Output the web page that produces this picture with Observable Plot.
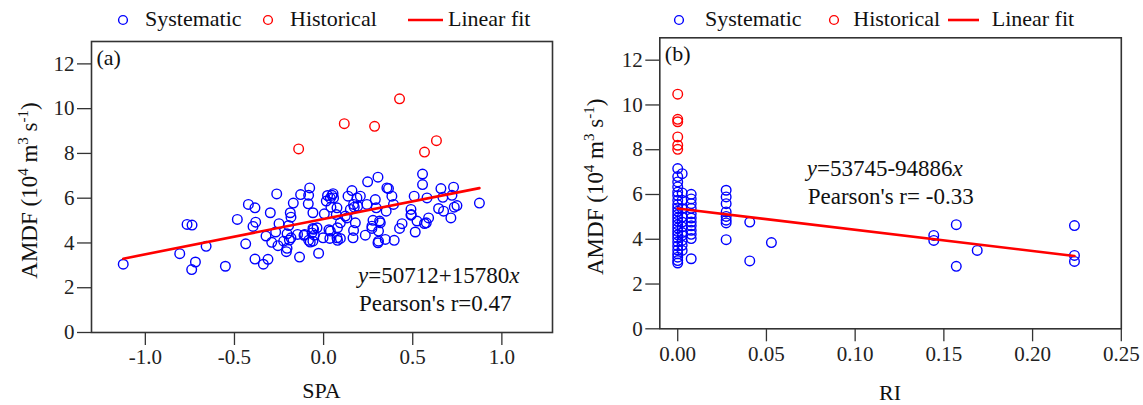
<!DOCTYPE html>
<html><head><meta charset="utf-8">
<script src="https://cdn.jsdelivr.net/npm/d3@7"></script>
<script src="https://cdn.jsdelivr.net/npm/@observablehq/plot@0.6"></script>
<style>
body{margin:0;background:#fff;}
#wrap{position:relative;width:1143px;height:405px;font-family:"Liberation Serif",serif;overflow:hidden;}
.panel{position:absolute;top:0;}
.panel svg text{font-family:"Liberation Serif",serif;}
.lg{position:absolute;font-size:22px;color:#111;white-space:nowrap;line-height:22px;}
</style></head><body><div id="wrap"></div><script>
// ---------- DATA ----------
// Panel (a): SPA vs AMDF (10^4 m^3 s^-1)
const spaSys = [-1.124,-0.766,-0.738,-0.807,-0.719,-0.74,-0.659,-0.551,-0.484,-0.437,-0.422,-0.385,-0.396,-0.381,-0.385,
 -0.338,-0.312,-0.323,-0.299,-0.263,-0.291,-0.25,-0.269,-0.256,-0.209,-0.205,-0.196,-0.187,-0.183,-0.17,-0.192,-0.146,
 -0.135,-0.129,-0.084,-0.078,-0.086,-0.11,-0.075,-0.06,-0.056,-0.052,-0.028,-0.003,0.004,0.015,0.022,0.047,0.041,0.03,
 0.075,-0.224,-0.205,-0.06,-0.06,0.038,0.053,0.071,0.122,0.137,0.159,0.168,0.187,0.206,0.191,0.247,0.305,0.243,0.29,
 0.295,0.355,0.383,0.392,0.351,0.508,0.49,0.492,0.555,0.555,0.58,0.524,0.576,0.514,0.44,0.426,0.396,0.346,0.308,0.314,
 0.277,0.271,0.308,0.234,0.178,0.168,0.131,0.094,0.078,0.094,0.078,0.038,0.035,-0.037,-0.065,-0.084,-0.106,-0.183,0.075,
 0.15,0.364,0.658,0.729,0.72,0.669,0.874,0.748,0.733,0.645,0.673,0.714,0.589,0.566,0.305,0.318,0.271,0.165,0.172,0.056,0.49];
const amdfSysA = [3.05,4.83,4.80,3.52,3.15,2.81,3.85,2.96,5.05,3.96,5.72,5.57,4.74,4.93,3.28,
 3.05,3.27,4.31,5.35,6.19,4.03,4.86,4.49,3.88,3.61,3.76,4.78,5.35,5.15,5.78,4.13,4.38,
 3.37,6.16,6.13,6.46,5.75,4.34,4.04,5.35,4.61,4.35,3.54,4.23,5.30,5.87,6.12,6.13,5.60,4.59,
 4.23,4.08,4.41,4.65,4.08,6.0,6.2,5.27,5.20,6.09,6.34,5.72,6.01,6.09,5.64,6.73,6.94,5.72,5.94,
 5.57,6.46,6.09,5.72,5.42,6.09,5.50,5.27,7.08,6.61,6.01,4.98,4.90,4.49,4.86,4.65,4.12,4.16,4.08,4.98,
 5.01,4.65,4.53,4.35,4.90,4.56,5.12,4.90,4.68,4.20,4.12,4.53,4.20,4.68,4.45,4.12,4.38,4.23,5.57,
 5.50,6.43,6.43,6.49,6.13,6.04,5.78,5.67,5.60,5.54,5.42,5.12,5.12,4.87,4.01,4.90,4.75,4.23,5.60,6.01,5.24];
const spaHist = [-0.14,0.116,0.286,0.426,0.566,0.633];
const amdfHistA = [8.20,9.33,9.21,10.44,8.06,8.57];

// Panel (b): RI vs AMDF
const riSys = [0,0,0,0,0,0,0,0,0,0,0,0,0,0,0,0,0,0,0,0,0,0,0,0,0,
 0.0025,0.0025,0.0025,0.0025,0.0025,0.0025,0.0025,0.0025,0.0025,0.0025,0.0025,0.0025,
 0.0076,0.0076,0.0076,0.0076,0.0076,0.0076,0.0076,0.0076,0.0076,0.0076,0.0076,0.0076,
 0.0273,0.0273,0.0273,0.0273,0.0273,0.0273,0.0273,0.0273,
 0.0406,0.0406,0.0528,0.1443,0.1443,0.157,0.157,0.1688,0.2236,0.2236,0.2236];
const amdfSysB = [7.16,6.8,6.56,6.34,6.11,5.95,5.74,5.55,5.4,5.25,5.1,4.95,4.8,4.65,4.5,4.35,4.2,4.05,3.88,3.7,3.52,3.35,3.2,3.05,2.94,
 6.93,6.07,5.74,5.37,4.99,4.77,4.55,4.3,4.17,3.95,3.73,3.5,
 6.01,5.8,5.59,5.38,5.14,4.95,4.77,4.6,4.4,4.22,4.03,3.13,
 6.19,5.89,5.59,5.22,5.02,4.85,4.73,3.98,
 4.77,3.03,3.85,4.17,3.95,4.65,2.79,3.50,4.61,3.28,3.01];
const riHist = [0,0,0,0,0,0];
const amdfHistB = [10.48,9.36,9.25,8.57,8.20,8.02];

// Linear fits (m^3 s^-1): intercept, slope
const fitA = [50712, 15780];
const fitB = [53745, -94886];

const xTicksA = [-1.0,-0.5,0.0,0.5,1.0];
const xTicksB = [0.00,0.05,0.10,0.15,0.20,0.25];
const yTicks = [0,2,4,6,8,10,12];
const legendLabels = ["Systematic","Historical","Linear fit"];

// ---------- DRAW ----------
const wrap = document.getElementById("wrap");
const BLUE = "#0000ff", RED = "#ff0000", INK = "#222";
const SERIF = '"Liberation Serif", serif';

function zip(xs, ys){ return xs.map((x,i)=>({x, y: ys[i]})); }

function panel(o){
  const sys = zip(o.sysX, o.sysY), hist = zip(o.histX, o.histY);
  const allX = o.sysX.concat(o.histX);
  const x0 = d3.min(allX), x1 = d3.max(allX);
  const fitLine = [x0, x1].map(x => ({x, y: (o.fit[0] + o.fit[1]*x)/1e4}));
  const svg = Plot.plot({
    width: o.width, height: 405,
    marginLeft: o.mL, marginRight: o.mR, marginTop: o.mT, marginBottom: o.mB,
    style: {fontFamily: SERIF, fontSize: "21px", color: INK, background: "transparent", overflow: "visible"},
    x: {domain: o.xDomain},
    y: {domain: [0, 13]},
    marks: [
      Plot.axisY({ticks: yTicks, tickSize: 14, tickPadding: 3, label: null, tickFormat: d => String(d), stroke: "#333", strokeWidth: 1.3, fontFamily: SERIF, fontSize: 21}),
      Plot.axisX({ticks: o.xTicks, tickSize: 13, tickPadding: 4, label: null, tickFormat: o.fmt, stroke: "#333", strokeWidth: 1.3, fontFamily: SERIF, fontSize: 21}),
      Plot.dot(sys, {x: "x", y: "y", r: 4.8, stroke: BLUE, strokeWidth: 1.4, fill: "none"}),
      Plot.dot(hist, {x: "x", y: "y", r: 4.8, stroke: RED, strokeWidth: 1.4, fill: "none"}),
      Plot.line(fitLine, {x: "x", y: "y", stroke: RED, strokeWidth: 2.6}),
      Plot.frame({stroke: "#333", strokeWidth: 1.6}),
      Plot.text([o.tag], {frameAnchor: "top-left", dx: 5, dy: 8, fontSize: 22, fontFamily: SERIF, textAnchor: "start", lineAnchor: "top", fill: "#111"})
    ]
  });
  const s = d3.select(svg);
  s.attr("font-family", SERIF);
  const plotL = o.mL, plotR = o.width - o.mR, plotT = o.mT, plotB = 405 - o.mB;
  // x title
  s.append("text").attr("x", (plotL+plotR)/2).attr("y", o.xTitleY).attr("text-anchor","middle")
    .attr("font-family", SERIF).attr("font-size", 22).attr("fill", "#111").text(o.xTitle);
  // y title with superscripts
  const yt = s.append("text").attr("transform", `translate(${o.yTitleX},${(plotT+plotB)/2 + 4}) rotate(-90)`)
    .attr("text-anchor","middle").attr("font-family", SERIF).attr("font-size", 23).attr("fill", "#111");
  const parts = [["AMDF (10",0],["4",1],[" m",0],["3",1],[" s",0],["-1",1],[")",0]];
  let prev = 0;
  parts.forEach(([t, sup]) => {
    const ts = yt.append("tspan").text(t);
    if (sup) { ts.attr("font-size", 15).attr("dy", prev ? 0 : -9); }
    else { ts.attr("dy", prev ? 9 : 0); }
    prev = sup;
  });
  // equation annotation
  const eq = s.append("text").attr("x", o.eqX).attr("y", o.eqY).attr("text-anchor","start")
    .attr("font-family", SERIF).attr("font-size", 23).attr("fill", "#111");
  eq.append("tspan").attr("font-style","italic").text("y");
  eq.append("tspan").text(o.eqText);
  eq.append("tspan").attr("font-style","italic").text("x");
  s.append("text").attr("x", o.eqX + 1).attr("y", o.eqY + 28).attr("text-anchor","start")
    .attr("font-family", SERIF).attr("font-size", 23).attr("fill", "#111").text(o.rText);

  const div = document.createElement("div");
  div.className = "panel";
  div.style.left = o.left + "px";
  div.appendChild(svg);
  wrap.appendChild(div);

  // legend
  const lg = o.legend;
  const items = [
    {kind: "dot", color: BLUE, cx: lg[0], tx: lg[1], label: legendLabels[0]},
    {kind: "dot", color: RED, cx: lg[2], tx: lg[3], label: legendLabels[1]},
    {kind: "line", color: RED, cx: lg[4], cx2: lg[5], tx: lg[6], label: legendLabels[2]}
  ];
  items.forEach(it => {
    const sym = document.createElementNS("http://www.w3.org/2000/svg", "svg");
    sym.setAttribute("width", 40); sym.setAttribute("height", 20);
    sym.style.position = "absolute"; sym.style.top = (lg[7] - 10) + "px";
    if (it.kind === "dot") {
      sym.style.left = (it.cx - 20) + "px";
      sym.innerHTML = `<circle cx="20" cy="10" r="4.4" fill="none" stroke="${it.color}" stroke-width="1.4"/>`;
    } else {
      sym.style.left = it.cx + "px";
      sym.innerHTML = `<line x1="0" x2="${it.cx2 - it.cx}" y1="10" y2="10" stroke="${it.color}" stroke-width="2.6"/>`;
    }
    wrap.appendChild(sym);
    const t = document.createElement("div");
    t.className = "lg"; t.textContent = it.label;
    t.style.left = it.tx + "px"; t.style.top = (lg[7] - 12) + "px";
    wrap.appendChild(t);
  });
}

panel({
  left: 0, width: 570, mL: 91, mR: 18, mT: 41, mB: 73,
  xDomain: [-1.302, 1.284], xTicks: xTicksA, fmt: d => d.toFixed(1),
  sysX: spaSys, sysY: amdfSysA, histX: spaHist, histY: amdfHistA, fit: fitA,
  tag: "(a)", xTitle: "SPA", xTitleY: 398, yTitleX: 37,
  eqX: 358, eqY: 283, eqText: "=50712+15780", rText: "Pearson's r=0.47",
  legend: [122.7, 145, 267.7, 290, 408, 443, 448, 20]
});
panel({
  left: 570, width: 573, mL: 89.3, mR: 22.2, mT: 37.3, mB: 76.7,
  xDomain: [-0.0101, 0.25], xTicks: xTicksB, fmt: d => d.toFixed(2),
  sysX: riSys, sysY: amdfSysB, histX: riHist, histY: amdfHistB, fit: fitB,
  tag: "(b)", xTitle: "RI", xTitleY: 400, yTitleX: 33,
  eqX: 806.7 - 570, eqY: 176, eqText: "=53745-94886", rText: "Pearson's r= -0.33",
  legend: [679.3, 705, 834.3, 853.3, 948.3, 979.3, 991.7, 20]
});
</script></body></html>
